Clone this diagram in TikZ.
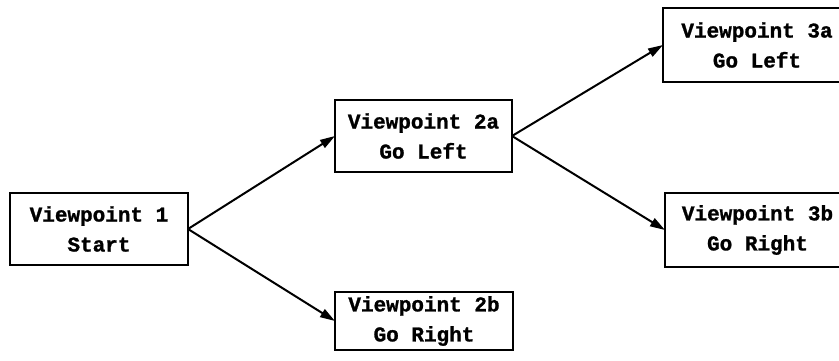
\documentclass[tikz,border=0pt]{standalone}
\usepackage{fontspec}
\setmonofont[BoldFeatures={FakeBold=1.2}]{Liberation Mono}
\usetikzlibrary{arrows.meta}
\begin{document}
\begin{tikzpicture}[x=1pt,y=-1pt,
  vpbox/.style={draw, line width=2.8pt, rectangle, inner sep=0pt, outer sep=0pt,
    align=center, font=\fontsize{21}{30}\selectfont\ttfamily\bfseries},
  link/.style={line width=2pt, -{Triangle[length=15pt,width=9pt]}}]
  \useasboundingbox (0,0) rectangle (839,361);
  \clip (0,0) rectangle (839,361);
  % viewpoint boxes
  \node[vpbox, minimum width=178pt, minimum height=72pt] (v1)  at (99,229)  {Viewpoint 1\\Start};
  \node[vpbox, minimum width=177pt, minimum height=72pt] (v2a) at (423.5,136) {Viewpoint 2a\\Go Left};
  \node[vpbox, minimum width=178pt, minimum height=58pt] (v2b) at (424,321) {Viewpoint 2b\\Go Right};
  \node[vpbox, minimum width=188pt, minimum height=74pt] (v3a) at (757,45)  {Viewpoint 3a\\Go Left};
  \node[vpbox, minimum width=185pt, minimum height=74pt] (v3b) at (757.5,230) {Viewpoint 3b\\Go Right};
  % branches
  \draw[link] (v1.east) -- (v2a.west);
  \draw[link] (v1.east) -- (v2b.west);
  \draw[link] (v2a.east) -- (v3a.west);
  \draw[link] (v2a.east) -- (v3b.west);
\end{tikzpicture}
\end{document}
